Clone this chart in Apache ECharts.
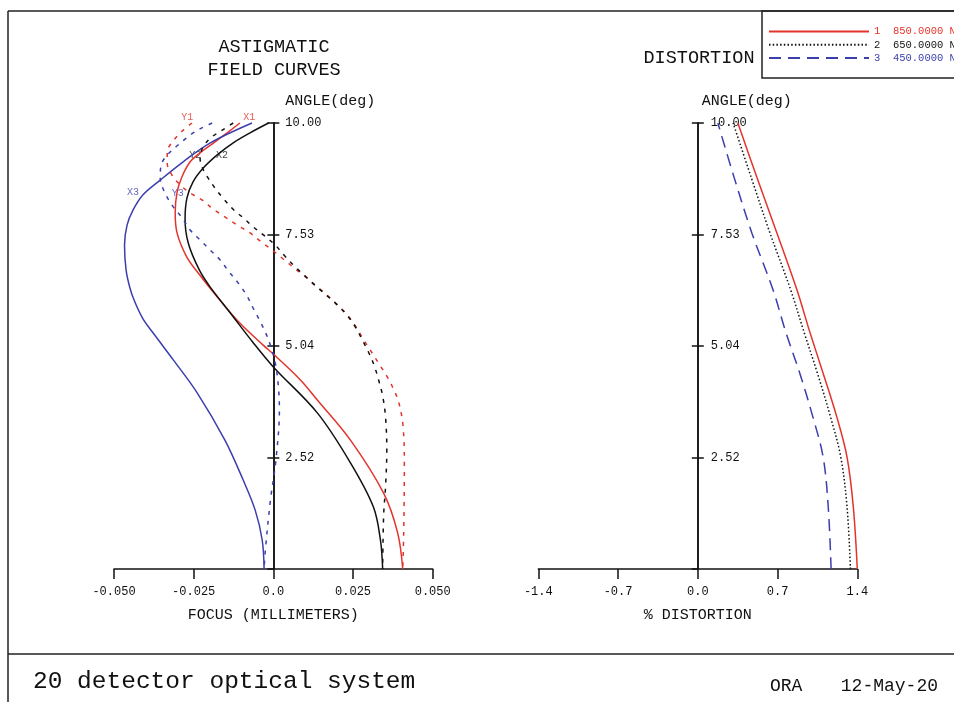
<!DOCTYPE html>
<html><head><meta charset="utf-8">
<script src="https://cdn.jsdelivr.net/npm/echarts@6/dist/echarts.min.js"></script>
<style>html,body{margin:0;padding:0;background:#fff}#c{width:954px;height:702px}</style>
</head><body><div id="c"></div>
<script>
// ---- data (focus in mm / distortion in %, field on 0..10 plot scale) ----
const X1 = [[-0.0105,10],[-0.0145,9.78],[-0.0188,9.55],[-0.0230,9.33],[-0.0261,9.13],[-0.0287,8.79],[-0.0302,8.45],[-0.0308,8.0],[-0.0302,7.53],[-0.0272,7.0],[-0.0234,6.62],[-0.0176,6.1],[-0.0106,5.52],[-0.0032,5.02],[0.0000,4.82],[0.0085,4.24],[0.0138,3.79],[0.0242,2.89],[0.0346,1.70],[0.0390,0.81],[0.0406,0]];
const X2 = [[-0.0015,10],[-0.0073,9.78],[-0.0127,9.55],[-0.0177,9.28],[-0.0220,8.99],[-0.0252,8.68],[-0.0271,8.32],[-0.0277,7.85],[-0.0267,7.31],[-0.0232,6.70],[-0.0198,6.32],[-0.0135,5.74],[-0.0065,5.09],[0.0000,4.53],[0.0138,3.50],[0.0242,2.38],[0.0314,1.39],[0.0336,0.65],[0.0343,0]];
const X3 = [[-0.0067,10],[-0.0199,9.55],[-0.0283,9.13],[-0.0355,8.72],[-0.0409,8.39],[-0.0440,8.05],[-0.0459,7.71],[-0.0467,7.26],[-0.0462,6.70],[-0.0450,6.30],[-0.0437,6.03],[-0.0410,5.62],[-0.0377,5.29],[-0.0314,4.69],[-0.0239,3.95],[-0.0152,2.89],[-0.0095,2.0],[-0.0057,1.32],[-0.0035,0.65],[-0.0029,0]];
const Y1 = [[-0.0255,10],[-0.0286,9.82],[-0.0314,9.6],[-0.0333,9.35],[-0.0333,9.10],[-0.0318,8.83],[-0.0292,8.61],[-0.0261,8.43],[-0.0223,8.27],[-0.0189,8.07],[-0.0151,7.89],[-0.0113,7.71],[-0.0072,7.53],[-0.0037,7.33],[-0.0003,7.15],[0.0031,6.95],[0.0065,6.75],[0.0101,6.55],[0.0135,6.34],[0.0170,6.13],[0.0201,5.92],[0.0233,5.69],[0.0260,5.42],[0.0285,5.12],[0.0312,4.82],[0.0336,4.55],[0.0358,4.30],[0.0376,4.05],[0.0393,3.75],[0.0407,3.20],[0.0411,2.29],[0.0409,0.81],[0.0406,0]];
const Y2 = [[-0.0126,10],[-0.0160,9.84],[-0.0198,9.66],[-0.0222,9.44],[-0.0230,9.22],[-0.0223,9.0],[-0.0206,8.78],[-0.0183,8.54],[-0.0156,8.30],[-0.0127,8.07],[-0.0094,7.87],[-0.0063,7.67],[-0.0031,7.49],[0.0006,7.26],[0.0038,7.0],[0.0069,6.77],[0.0101,6.56],[0.0134,6.34],[0.0168,6.13],[0.0201,5.92],[0.0231,5.69],[0.0257,5.43],[0.0278,5.15],[0.0298,4.87],[0.0316,4.57],[0.0331,4.22],[0.0343,3.88],[0.0352,3.41],[0.0356,2.67],[0.0352,1.84],[0.0346,1.2],[0.0343,0]];
const Y3 = [[-0.0192,10],[-0.0230,9.87],[-0.0261,9.73],[-0.0300,9.5],[-0.0333,9.28],[-0.0352,9.06],[-0.0355,8.77],[-0.0340,8.43],[-0.0314,8.12],[-0.0286,7.87],[-0.0261,7.60],[-0.0230,7.38],[-0.0198,7.15],[-0.0167,6.93],[-0.0140,6.67],[-0.0110,6.41],[-0.0084,6.14],[-0.0062,5.83],[-0.0042,5.56],[-0.0025,5.31],[-0.0011,5.05],[0.0006,4.62],[0.0016,4.08],[0.0019,3.57],[0.0008,2.44],[-0.0009,1.55],[-0.0025,0.43],[-0.0029,0]];
const D1 = [[1.400,0],[1.365,1.39],[1.310,2.51],[1.220,3.41],[1.100,4.39],[0.986,5.29],[0.870,6.26],[0.695,7.53],[0.520,8.77],[0.352,10]];
const D2 = [[1.340,0],[1.310,1.39],[1.255,2.51],[1.165,3.41],[1.050,4.39],[0.935,5.29],[0.815,6.26],[0.634,7.53],[0.470,8.77],[0.310,10]];
const D3 = [[1.170,0],[1.145,1.39],[1.100,2.51],[1.010,3.41],[0.895,4.39],[0.775,5.29],[0.660,6.26],[0.475,7.53],[0.320,8.77],[0.176,10]];
const curveLabels = [[-0.0076,10.13,'X1'],[-0.0270,10.13,'Y1'],[-0.0245,9.28,'Y2'],[-0.0161,9.28,'X2'],[-0.0440,8.45,'X3'],[-0.0300,8.43,'Y3']];
const yTickValues = [2.5,5,7.5,10];
const yTickText = ['2.52','5.04','7.53','10.00'];
const wavelengths = ['850.0000 N','650.0000 N','450.0000 N'];
const waveIds = ['1','2','3'];
const focusRange = [-0.05, 0.05, 0.025];
const distRange = [-1.4, 1.4, 0.7];

const RED = '#e3342b', BLK = '#111111', BLU = '#3b3fae';
const colors = [RED, BLK, BLU];
const FONT = '"Liberation Mono", "DejaVu Sans Mono", monospace';
const W = 954;
const grids = [
  {left:114, right:521.3, top:123, bottom:133},
  {left:538.3, right:96.7, top:123, bottom:133}
];
const namePad = [12, 4];
const labelMargin = [12, 13];

function yFmt(v){ const i = yTickValues.findIndex(t => Math.abs(t - v) < 1e-6); return i < 0 ? '' : yTickText[i]; }
function focusFmt(v){ return Math.abs(v) < 1e-9 ? '0.0' : v.toFixed(3); }
function distFmt(v){ return Math.abs(v) < 1e-9 ? '0.0' : v.toFixed(1); }

function xAx(gi, r, name, fmt){
  return {type:'value', gridIndex:gi, min:r[0], max:r[1], interval:r[2], position:'bottom',
    name:name, nameLocation:'middle', nameGap:39, nameTextStyle:{fontFamily:FONT, fontSize:15, color:'#111'},
    axisLine:{onZero:false, lineStyle:{color:'#111', width:1.5}},
    axisTick:{show:true, inside:false, length:10, lineStyle:{color:'#111', width:1.5}},
    axisLabel:{formatter:fmt, margin:17, fontFamily:FONT, fontSize:12, color:'#111'},
    splitLine:{show:false}};
}
// place the y axis on x = 0 of the matching x range
function yAx(gi, r, withLabels, pos){
  const g = grids[gi];
  const width = W - g.left - g.right;
  const fromRight = width * (r[1] - 0) / (r[1] - r[0]);
  const fromLeft = width - fromRight;
  const offset = pos === 'right' ? -fromRight : -fromLeft;
  return {type:'value', gridIndex:gi, min:0, max:10, interval:2.5, position:pos, offset:offset,
    name: withLabels ? 'ANGLE(deg)' : '', nameLocation:'end', nameGap:14,
    nameTextStyle:{fontFamily:FONT, fontSize:15, color:'#111', align:'left', padding:[0,0,0,namePad[gi]]},
    axisLine:{show:true, onZero:false, lineStyle:{color:'#111', width:1.5}},
    axisTick:{show:true, length:6, lineStyle:{color:'#111', width:1.5}},
    axisLabel:{show:withLabels, formatter:yFmt, margin:labelMargin[gi], fontFamily:FONT, fontSize:12, color:'#111', showMinLabel:false},
    splitLine:{show:false}};
}
function ln(name, data, color, type, xi, yi){
  return {type:'line', name:name, data:data, xAxisIndex:xi, yAxisIndex:yi, smooth:0.35, symbol:'none',
    lineStyle:{color:color, width:1.5, type:type}, itemStyle:{color:color}, silent:true, animation:false, clip:false};
}
function labelColor(t){ const c = t[1]; return c === '1' ? RED : (c === '2' ? BLK : BLU); }

const chart = echarts.init(document.getElementById('c'), null, {renderer:'canvas'});
const shortDash = [4,6];
chart.setOption({
  backgroundColor:'#fff',
  animation:false,
  grid: grids,
  xAxis:[
    xAx(0, focusRange, 'FOCUS (MILLIMETERS)', focusFmt),
    xAx(1, distRange, '% DISTORTION', distFmt)
  ],
  yAxis:[
    yAx(0, focusRange, true, 'right'), yAx(0, focusRange, false, 'left'),
    yAx(1, distRange, true, 'right'), yAx(1, distRange, false, 'left')
  ],
  legend:{
    orient:'vertical', left:768, top:26, padding:0, itemWidth:100, itemHeight:11, itemGap:2.3,
    itemStyle:{opacity:0},
    data: waveIds.map((id,i)=>({name:id, textStyle:{color:colors[i]}})),
    formatter: n => n + '  ' + wavelengths[waveIds.indexOf(n)],
    textStyle:{fontFamily:FONT, fontSize:10.5}
  },
  series:[
    ln('X1', X1, RED, 'solid', 0, 0),
    ln('X2', X2, BLK, 'solid', 0, 0),
    ln('X3', X3, BLU, 'solid', 0, 0),
    ln('Y1', Y1, RED, shortDash, 0, 0),
    ln('Y2', Y2, BLK, shortDash, 0, 0),
    ln('Y3', Y3, BLU, shortDash, 0, 0),
    ln('1', D1, RED, 'solid', 1, 2),
    ln('2', D2, BLK, [1.5,2.2], 1, 2),
    ln('3', D3, BLU, [12,7], 1, 2),
    {type:'scatter', xAxisIndex:0, yAxisIndex:0, symbolSize:1, clip:false, silent:true,
      itemStyle:{color:'rgba(0,0,0,0)'},
      data: curveLabels.map(d => ({value:[d[0], d[1]], name:d[2],
        label:{show:true, position:'inside', formatter:d[2], fontFamily:FONT, fontSize:10, color:labelColor(d[2])}})),
      labelLayout:{hideOverlap:false}}
  ],
  graphic:[
    {type:'line', shape:{x1:8,y1:11,x2:954,y2:11}, style:{stroke:'#222', lineWidth:1.5}},
    {type:'line', shape:{x1:8,y1:11,x2:8,y2:702}, style:{stroke:'#222', lineWidth:1.5}},
    {type:'line', shape:{x1:8,y1:654,x2:954,y2:654}, style:{stroke:'#222', lineWidth:1.5}},
    {type:'rect', shape:{x:762,y:11,width:200,height:67}, style:{fill:'none', stroke:'#222', lineWidth:1.5}},
    {type:'text', x:274, y:47, style:{text:'ASTIGMATIC', font:'18.5px '+FONT, fill:'#111', textAlign:'center', textVerticalAlign:'middle'}},
    {type:'text', x:274, y:70, style:{text:'FIELD CURVES', font:'18.5px '+FONT, fill:'#111', textAlign:'center', textVerticalAlign:'middle'}},
    {type:'text', x:699, y:58, style:{text:'DISTORTION', font:'18.5px '+FONT, fill:'#111', textAlign:'center', textVerticalAlign:'middle'}},
    {type:'text', x:33, y:682, style:{text:'20 detector optical system', font:'24.5px '+FONT, fill:'#111', textAlign:'left', textVerticalAlign:'middle'}},
    {type:'text', x:770, y:686, style:{text:'ORA', font:'18px '+FONT, fill:'#111', textAlign:'left', textVerticalAlign:'middle'}},
    {type:'text', x:938, y:686, style:{text:'12-May-20', font:'18px '+FONT, fill:'#111', textAlign:'right', textVerticalAlign:'middle'}}
  ]
});
</script></body></html>
